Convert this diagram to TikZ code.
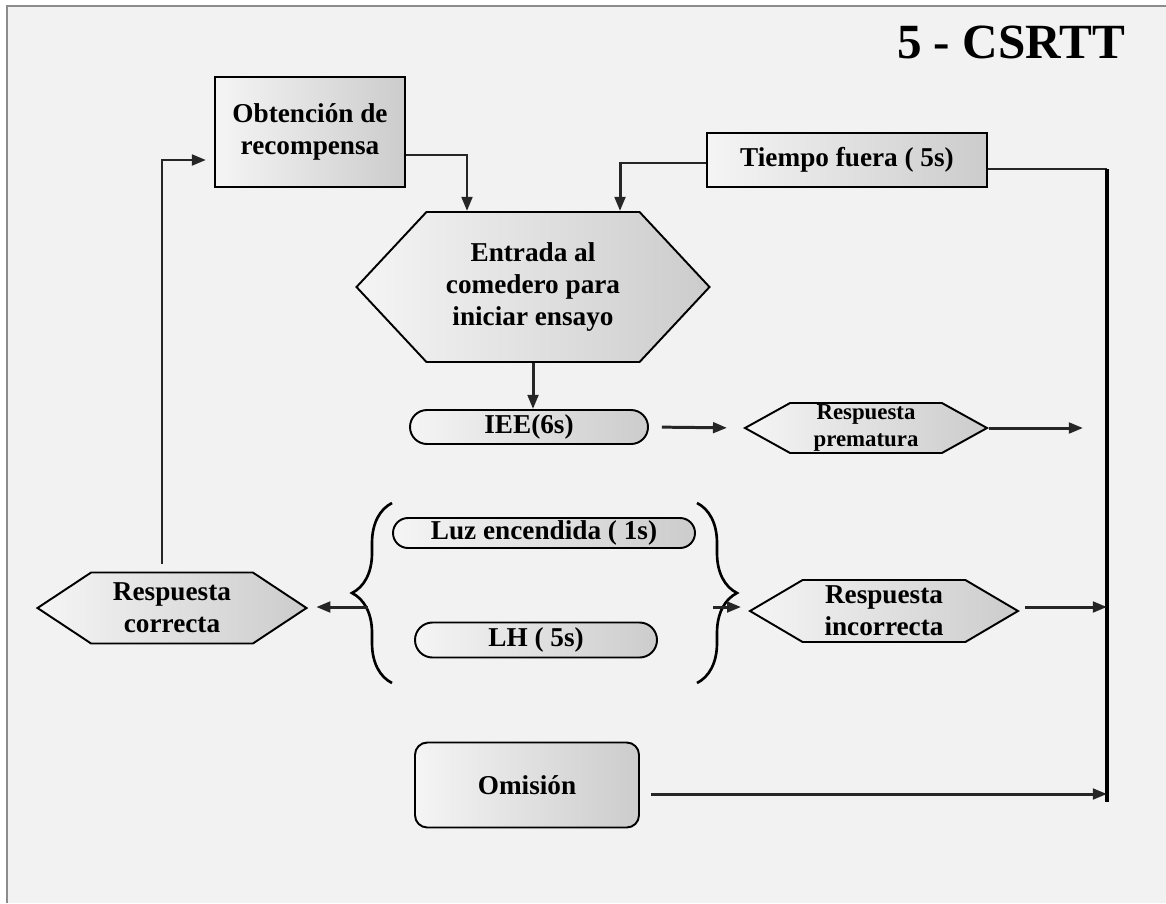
\documentclass[tikz,border=0pt]{standalone}
\usepackage{fontspec}
\setmainfont{Liberation Serif}
\usetikzlibrary{arrows.meta,shapes.misc,shapes.symbols,decorations.pathreplacing}
\definecolor{fondo}{RGB}{242,242,242}
\definecolor{marco}{RGB}{140,140,140}
\tikzset{
  caja/.style={draw, line width=1.1pt, left color=gray!8, right color=gray!40,
    align=center, font=\bfseries\fontsize{15.5}{18}\selectfont, inner sep=0pt},
  hexa/.style={caja, shape=signal, signal to=west and east},
  pill/.style={caja, shape=rounded rectangle},
  flecha/.style={line width=1.7pt, draw=black!85, -{Triangle[length=8pt,width=6pt]}},
  linea/.style={line width=1.7pt, draw=black!85},
  llave/.style={line width=1.5pt, decorate, decoration={brace, amplitude=0.8cm}}
}

\begin{document}
\begin{tikzpicture}[x=0.02cm, y=-0.02cm]
  \def\u{0.02cm}
  \useasboundingbox (0,0) rectangle (1166,903);
  \fill[white] (0,0) rectangle (1166,903);
  \fill[fondo] (7,6) rectangle (1166,903);
  \draw[marco, line width=1pt] (7,903) -- (7,6) -- (1166,6);
  % titulo
  \node[font=\bfseries\fontsize{28}{32}\selectfont] (titulo) at (1011,42) {5 - CSRTT};
  % cajas
  \node[caja, minimum width=190*\u, minimum height=110*\u] (obt) at (310,132) {Obtención de\\recompensa};
  \node[caja, minimum width=280*\u, minimum height=54*\u] (tiempo) at (847,160) {Tiempo fuera ( 5s)};
  \node[hexa, minimum width=353*\u, minimum height=150*\u, signal pointer angle=94] (entrada) at (533,287) {Entrada al\\comedero para\\iniciar ensayo};
  \node[pill, minimum width=238*\u, minimum height=34*\u] (iee) at (529,427) {IEE(6s)};
  \node[hexa, font=\bfseries\fontsize{13}{15}\selectfont, minimum width=242*\u, minimum height=50*\u, signal pointer angle=58] (prem) at (866,428) {Respuesta\\prematura};
  \node[pill, minimum width=302*\u, minimum height=30*\u] (luz) at (544,533) {Luz encendida ( 1s)};
  \node[pill, minimum width=242*\u, minimum height=35*\u] (lh) at (536,640) {LH ( 5s)};
  \node[hexa, minimum width=269*\u, minimum height=71*\u, signal pointer angle=67] (corr) at (172,608) {Respuesta\\correcta};
  \node[hexa, minimum width=268*\u, minimum height=62*\u, signal pointer angle=61] (inc) at (884,611) {Respuesta\\incorrecta};
  \node[caja, rounded corners=7pt, minimum width=224*\u, minimum height=85*\u] (omision) at (527,785) {Omisión};
  % llaves
  \coordinate (lli-a) at (392,683);
  \coordinate (lli-b) at (392,503);
  \coordinate (lld-a) at (697,503);
  \coordinate (lld-b) at (697,683);
  \draw[llave] (lli-a) -- (lli-b);
  \draw[llave] (lld-a) -- (lld-b);
  \coordinate (lli-pico) at (368,607);
  \coordinate (lld-pico) at (713,607);
  % linea vertical de la derecha
  \coordinate (bus-sup) at (1107,169);
  \coordinate (bus-inf) at (1107,802);
  \coordinate (prem-fin) at (1083,428);
  \draw[linea] ([yshift=-9*\u]tiempo.east) -- (bus-sup);
  \draw[line width=2.4pt] (bus-sup) -- (bus-inf);
  % flechas
  \draw[flecha] ([yshift=-23*\u]obt.east) -| ([xshift=-66*\u]entrada.north);
  \draw[flecha] ([yshift=-3*\u]tiempo.west) -| ([xshift=87*\u]entrada.north);
  \draw[flecha] (entrada.south) -- (entrada.south |- iee.north);
  \draw[flecha, shorten <={13*\u}, shorten >={16*\u}] (iee.east) -- (prem.west);
  \draw[flecha] (prem.east) -- (prem-fin);
  \draw[flecha, shorten >={8*\u}] (lli-pico) -- (lli-pico -| corr.east);
  \draw[flecha, shorten >={7*\u}] (lld-pico) -- (lld-pico -| inc.west);
  \draw[flecha, shorten <={5*\u}] ([yshift=4*\u]inc.east) -- ([yshift=4*\u]inc.east -| bus-sup);
  \draw[flecha, shorten <={11*\u}] ([yshift=-9*\u]omision.east) -- ([yshift=-9*\u]omision.east -| bus-sup);
  \draw[flecha, shorten >={8*\u}] ([xshift=-10*\u, yshift=8*\u]corr.north) |- ([yshift=-28*\u]obt.west);
\end{tikzpicture}
\end{document}
